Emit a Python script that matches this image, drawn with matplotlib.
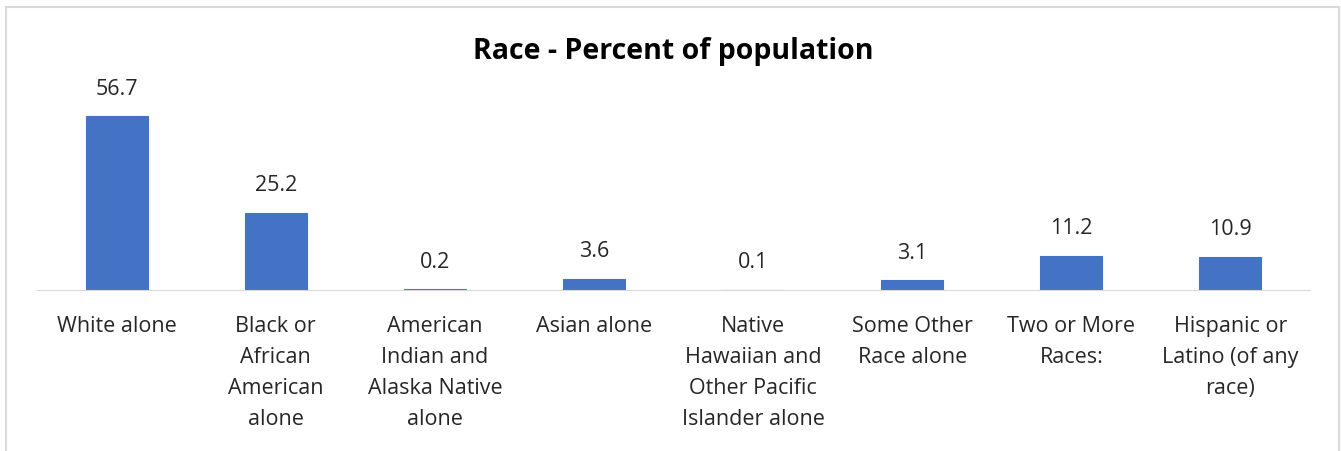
import matplotlib.pyplot as plt
from matplotlib.patches import Rectangle

categories = ["White alone", "Black or\nAfrican\nAmerican\nalone",
              "American\nIndian and\nAlaska Native\nalone", "Asian alone",
              "Native\nHawaiian and\nOther Pacific\nIslander alone",
              "Some Other\nRace alone", "Two or More\nRaces:",
              "Hispanic or\nLatino (of any\nrace)"]
percent = [56.7, 25.2, 0.2, 3.6, 0.1, 3.1, 11.2, 10.9]

plt.rcParams['font.family'] = ['Open Sans', 'DejaVu Sans']

fig = plt.figure(figsize=(13.41, 4.51), dpi=100)
ax = fig.add_axes([0.0276, 0.357, 0.9493, 0.408])

x = range(len(categories))
bars = ax.bar(x, percent, width=0.39, color="#4472C4",
              edgecolor="#4472C4", linewidth=0.8)

for b, v in zip(bars, percent):
    ax.annotate(f"{v}", (b.get_x() + b.get_width() / 2, v),
                xytext=(0, 19.5), textcoords="offset points",
                ha="center", va="center", fontsize=15.5, color="#262626")

ax.set_xlim(-0.5, len(categories) - 0.5)
ax.set_ylim(0, 60)
ax.set_xticks(list(x))
ax.set_xticklabels(categories, fontsize=15.5, color="#262626", linespacing=1.64)
ax.tick_params(axis="x", length=0, pad=18.5)
ax.set_yticks([])
for s in ["top", "right", "left"]:
    ax.spines[s].set_visible(False)
ax.spines["bottom"].set_color("#d9d9d9")

fig.text(0.502, 0.886, "Race - Percent of population", ha="center", va="center",
         fontsize=20.5, fontweight="bold", color="#000000")

# light frame round the chart
fig.patches.append(Rectangle((6 / 1341, -0.05), 1333 / 1341, 1.034,
                             transform=fig.transFigure, fill=False,
                             edgecolor="#d9d9d9", linewidth=1.5))

fig.savefig("out.png", dpi=100)
